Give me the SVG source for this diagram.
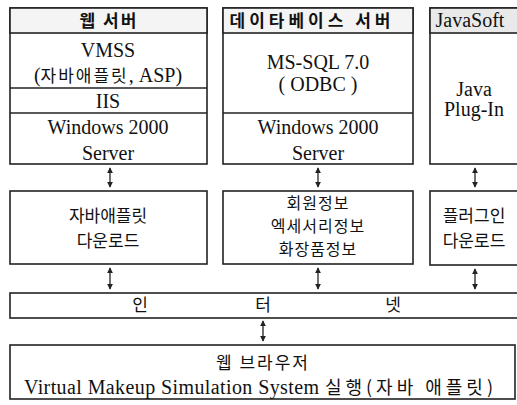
<svg xmlns="http://www.w3.org/2000/svg" width="517" height="405" viewBox="0 0 517 405">
<defs>
<marker id="ah" viewBox="0 0 8 8" refX="7" refY="4" markerWidth="6" markerHeight="6" orient="auto-start-reverse" markerUnits="userSpaceOnUse">
<path d="M0,0 L8,4 L0,8 Z" fill="#222"/>
</marker>
</defs>
<style>
.b{fill:#fff;stroke:#222;stroke-width:1.6}
.h{fill:#f4f4f4;stroke:#222;stroke-width:1.6}
.hj{fill:#e9e9e9;stroke:#222;stroke-width:1.6}
.d{stroke:#222;stroke-width:1.6;fill:none}
.t{font-family:"Liberation Serif","Noto Sans CJK KR",serif;font-size:20px;fill:#111;text-anchor:middle}
.k{font-family:"Noto Sans CJK KR",sans-serif;font-size:17px;fill:#111;text-anchor:middle}
.ks{font-family:"Noto Sans CJK KR",sans-serif;font-size:16px;fill:#111;text-anchor:middle;letter-spacing:1px}
.kb{font-family:"Noto Sans CJK KR",sans-serif;font-size:17px;font-weight:bold;fill:#111;text-anchor:middle;letter-spacing:2px}
.a{stroke:#222;stroke-width:1.3;marker-start:url(#ah);marker-end:url(#ah)}
</style>
<rect width="517" height="405" fill="#fff"/>
<g id="webserver">
<rect class="b" x="10" y="8" width="197" height="156"/>
<rect class="h" x="10" y="8" width="197" height="25"/>
<line class="d" x1="10" y1="88" x2="207" y2="88"/>
<line class="d" x1="10" y1="113" x2="207" y2="113"/>
<text class="kb" x="109" y="27">웹  서버</text>
<text class="t" x="108" y="57">VMSS</text>
<text class="t" x="108" y="82">(<tspan font-family="Noto Sans CJK KR" font-size="17" letter-spacing="2">자바애플릿</tspan>, ASP)</text>
<text class="t" x="108" y="108">IIS</text>
<text class="t" x="108" y="134">Windows 2000</text>
<text class="t" x="108" y="160">Server</text>
</g>
<g id="dbserver">
<rect class="b" x="223" y="8" width="190" height="156"/>
<rect class="h" x="223" y="8" width="190" height="25"/>
<line class="d" x1="223" y1="113" x2="413" y2="113"/>
<text class="kb" x="312" y="27" style="letter-spacing:4px">데이타베이스 서버</text>
<text class="t" x="318" y="69">MS-SQL 7.0</text>
<text class="t" x="318" y="91">( ODBC )</text>
<text class="t" x="318" y="134">Windows 2000</text>
<text class="t" x="318" y="160">Server</text>
</g>
<g id="javasoft">
<rect class="b" x="430" y="8" width="95" height="156"/>
<rect class="hj" x="430" y="8" width="95" height="25"/>
<text class="t" x="470" y="27">JavaSoft</text>
<text class="t" x="474" y="96">Java</text>
<text class="t" x="474" y="116">Plug-In</text>
</g>
<g id="appletdl">
<rect class="b" x="10" y="191" width="197" height="73"/>
<text class="k" x="108" y="222">자바애플릿</text>
<text class="k" x="108" y="247">다운로드</text>
</g>
<g id="dbinfo">
<rect class="b" x="223" y="191" width="190" height="73"/>
<text class="ks" x="318" y="209">회원정보</text>
<text class="ks" x="318" y="232">엑세서리정보</text>
<text class="ks" x="318" y="255">화장품정보</text>
</g>
<g id="plugindl">
<rect class="b" x="430" y="191" width="95" height="74"/>
<text class="k" x="474" y="222">플러그인</text>
<text class="k" x="474" y="247">다운로드</text>
</g>
<g id="internet">
<rect class="b" x="10" y="293" width="515" height="25"/>
<text class="k" x="140" y="311">인</text>
<text class="k" x="263" y="311">터</text>
<text class="k" x="393" y="311">넷</text>
</g>
<g id="browser">
<rect class="b" x="10" y="345" width="505" height="54"/>
<text class="k" x="263" y="369" style="letter-spacing:2px">웹 브라우저</text>
<text class="t" x="24" y="394" style="text-anchor:start;letter-spacing:0.4px">Virtual Makeup Simulation System <tspan font-family="Noto Sans CJK KR" font-size="18" letter-spacing="4">실행(자바 애플릿)</tspan></text>
</g>
<g id="connectors">
<line class="a" x1="110" y1="168" x2="110" y2="187"/>
<line class="a" x1="318" y1="168" x2="318" y2="187"/>
<line class="a" x1="475" y1="168" x2="475" y2="187"/>
<line class="a" x1="110" y1="268" x2="110" y2="289"/>
<line class="a" x1="318" y1="268" x2="318" y2="289"/>
<line class="a" x1="475" y1="269" x2="475" y2="289"/>
<line class="a" x1="263" y1="321" x2="263" y2="341"/>
</g>
</svg>
